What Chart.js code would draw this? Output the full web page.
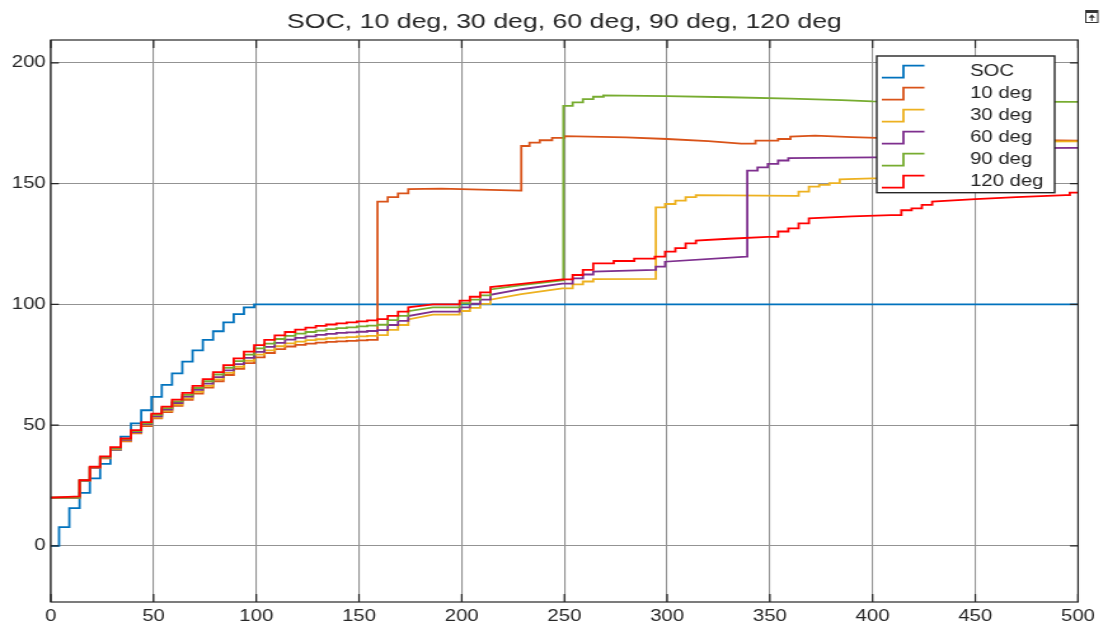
<!DOCTYPE html>
<html>
<head>
<meta charset="utf-8">
<title>SOC stairs</title>
<script src="https://cdn.jsdelivr.net/npm/chart.js@4.4.1/dist/chart.umd.min.js"></script>
<style>
  html, body { margin: 0; padding: 0; background: #fff; overflow: hidden; }
  /* figure is drawn narrow and widened, like the exported figure */
  #wrap { width: 872px; height: 628px; transform: scaleX(1.27064); transform-origin: 0 0; }
  canvas { display: block; }
</style>
</head>
<body>
<div id="wrap"><canvas id="socChart" width="872" height="628"></canvas></div>
<script>
// stair data: [time, value] — value holds until the next time.
// a third entry R marks a slow drift: straight line from the previous point
const R = true;

const socSteps = [[0,0],[4,7.8],[9,15.7],[14,22],[19,28],[24,34],[29,39.8],[34,45.3],[39,50.8],[44,56.2],[49,61.7],[54,66.7],[59,71.5],[64,76.3],[69,81],[74,85.3],[79,88.9],[84,92.6],[89,96],[94,98.8],[99,100],[500,100]];

const deg10Steps = [[0,20],[14,27],[19,32.3],[24,36.3],[29,39.9],[34,43.3],[39,46.6],[44,49.6],[49,52.8],[54,55.4],[59,58],[64,60.5],[69,63.1],[74,65.6],[79,68.2],[84,70.8],[89,73.3],[94,75.7],[99,78.1],[104,79.9],[109,81.5],[114,82.6],[119,83.3],[124,83.8],[129,84.2],[134,84.5],[139,84.7],[144,84.9],[149,85.1],[154,85.3],[159,142.6],[164,144.4],[169,146],[174,147.8],[190,148,R],[228.6,147.1,R],[229,165.6],[233,167],[238,168],[244,169],[250,169.7],[280,169.2,R],[300,168.5,R],[320,167.6,R],[336,166.6,R],[343,167.8],[354,168.5],[360,169.5],[372,169.9,R],[390,169.3,R],[410,168.8,R],[450,168.3,R],[480,168,R],[500,167.8,R]];

const deg30Steps = [[0,20],[14,27.1],[19,32.4],[24,36.5],[29,40.1],[34,43.6],[39,46.9],[44,50],[49,53.2],[54,55.9],[59,58.5],[64,61.1],[69,63.8],[74,66.3],[79,69],[84,71.7],[89,74.2],[94,76.7],[99,79.2],[104,81],[109,82.7],[114,83.9],[119,84.6],[124,85.2],[129,85.6],[134,86],[139,86.3],[144,86.5],[149,86.8],[154,87],[159,87.3],[164,89.5],[169,91.5],[174,93.8],[186,95.8,R],[199,97.3],[204,98.6],[209,100.2],[214,102],[229,104.3,R],[249,106.7,R],[254,108.3],[259,109.5],[264,110.5],[294,110.6,R],[294.5,140.2],[299,141.6],[304,143],[309,144.4],[314,145.3],[363,145,R],[364,146.7],[369,148.8],[374,149.5],[379,150.2],[384,151.8],[400,152.2,R],[429,165.5],[440,167.3],[500,167.5,R]];

const deg60Steps = [[0,20],[14,27.1],[19,32.5],[24,36.7],[29,40.4],[34,43.9],[39,47.2],[44,50.4],[49,53.7],[54,56.5],[59,59.2],[64,61.8],[69,64.6],[74,67.2],[79,69.9],[84,72.7],[89,75.3],[94,77.9],[99,80.4],[104,82.4],[109,84.1],[114,85.4],[119,86.2],[124,86.8],[129,87.4],[134,87.8],[139,88.2],[144,88.4],[149,88.7],[154,89],[159,89.4],[164,91.5],[169,93.2],[174,95.2],[186,97,R],[199,98.8],[204,100.3],[209,102],[214,104],[229,106.3,R],[249,108.6,R],[254,110.8],[259,112.4],[264,113.6],[294,114.3,R],[294.5,115.7],[299,117.7],[338.5,119.8,R],[339,155.4],[344,156.8],[349,158.2],[354,159.6],[359,160.6],[400,160.9,R],[414,162.4],[419,163.3],[424,164],[429,164.6],[500,164.8,R]];

const deg90Steps = [[0,20],[14,27.2],[19,32.7],[24,36.9],[29,40.6],[34,44.2],[39,47.6],[44,50.8],[49,54.3],[54,57.1],[59,59.9],[64,62.6],[69,65.4],[74,68.2],[79,71],[84,73.8],[89,76.5],[94,79.2],[99,81.8],[104,83.8],[109,85.7],[114,87],[119,87.9],[124,88.6],[129,89.2],[134,89.8],[139,90.2],[144,90.5],[149,90.9],[154,91.2],[159,91.6],[164,93.5],[169,95.3],[174,97.2],[186,98.8,R],[199,100.5],[204,102],[209,103.8],[214,106.2],[229,108,R],[249,110,R],[249.5,182.2],[254,183.7],[259,185],[264,186],[269,186.6],[300,186.3,R],[330,185.8,R],[360,185.2,R],[385,184.6,R],[400,184.1,R],[500,183.9,R]];

const deg120Steps = [[0,20],[14,20.5,R],[14,27.3],[19,32.8],[24,37.1],[29,40.9],[34,44.5],[39,48],[44,51.3],[49,54.8],[54,57.7],[59,60.6],[64,63.4],[69,66.3],[74,69.1],[79,72],[84,74.9],[89,77.7],[94,80.5],[99,83.2],[104,85.3],[109,87.2],[114,88.6],[119,89.6],[124,90.4],[129,91.1],[134,91.7],[139,92.2],[144,92.6],[149,93],[154,93.4],[159,93.9],[164,95.3],[169,97],[174,98.8],[186,100,R],[199,101.6],[204,103.2],[209,105],[214,107.2],[229,108.5,R],[249,110.4,R],[254,112.2],[259,114.3],[264,117],[274,118],[284,119],[294,119.8],[299,121.9],[304,123.3],[309,125.3],[314,126.4],[330,127.2,R],[349,128,R],[354,130.2],[359,131.5],[364,133.6],[369,135.7],[390,136.5,R],[409,137,R],[414,139],[419,139.8],[424,141.2],[429,142.6],[450,143.6,R],[470,144.4,R],[494,145.3,R],[496,146.3],[500,146.3]];

const seriesNames = ["SOC", "10 deg", "30 deg", "60 deg", "90 deg", "120 deg"];
const seriesColors = ["#0072BD", "#D95319", "#EDB120", "#7E2F8E", "#77AC30", "#FF0000"];
const xTickValues = [0, 50, 100, 150, 200, 250, 300, 350, 400, 450, 500];
const yTickValues = [0, 50, 100, 150, 200];
const titleText = "SOC, 10 deg, 30 deg, 60 deg, 90 deg, 120 deg";

const allSteps = [socSteps, deg10Steps, deg30Steps, deg60Steps, deg90Steps, deg120Steps];

const FONT = "'Liberation Sans', Arial, Helvetica, sans-serif";
const INK = "#262626";
const LINE_W = 1.8;

// turn stair entries into corner points (flat, then vertical rise)
function toCorners(steps) {
  const pts = [{ x: steps[0][0], y: steps[0][1] }];
  for (let i = 1; i < steps.length; i++) {
    const [x, y, drift] = steps[i];
    if (!drift) pts.push({ x, y: steps[i - 1][1] });
    pts.push({ x, y });
  }
  return pts;
}

// ------------------------------
// box, inward ticks, legend, title
// ------------------------------
function drawLegend(ctx) {
  const left = 690, top = 56, right = 830, bottom = 192.7;
  ctx.fillStyle = "#fff";
  ctx.fillRect(left, top, right - left, bottom - top);
  ctx.strokeStyle = INK;
  ctx.lineWidth = 1.4;
  ctx.strokeRect(left, top, right - left, bottom - top);

  ctx.font = "16px " + FONT;
  ctx.textAlign = "left";
  ctx.textBaseline = "middle";
  seriesNames.forEach((name, i) => {
    const cy = 70.7 + i * 22;
    ctx.strokeStyle = seriesColors[i];
    ctx.lineWidth = LINE_W;
    ctx.beginPath();
    ctx.moveTo(694, cy + 7);
    ctx.lineTo(711, cy + 7);
    ctx.lineTo(711, cy - 5);
    ctx.lineTo(727.5, cy - 5);
    ctx.stroke();
    ctx.fillStyle = INK;
    ctx.fillText(name, 763.4, cy + 1);
  });
}

function drawExportIcon(ctx) {
  ctx.strokeStyle = "#333";
  ctx.fillStyle = "#333";
  ctx.lineWidth = 1;
  ctx.strokeRect(854.5, 10.5, 9.5, 12);
  ctx.fillRect(854.5, 10.5, 9.5, 2.5);
  ctx.beginPath();
  ctx.moveTo(859.25, 21);
  ctx.lineTo(859.25, 16);
  ctx.stroke();
  ctx.beginPath();
  ctx.moveTo(856.6, 17.8);
  ctx.lineTo(859.25, 14.2);
  ctx.lineTo(861.9, 17.8);
  ctx.closePath();
  ctx.fill();
}

const framePlugin = {
  id: "frame",
  afterDatasetsDraw(chart) {
    const { ctx, chartArea: a, scales: { x, y } } = chart;
    ctx.save();
    ctx.strokeStyle = INK;
    ctx.lineWidth = 1.2;
    ctx.strokeRect(a.left, a.top, a.right - a.left, a.bottom - a.top);

    ctx.beginPath();
    xTickValues.forEach(v => {
      const px = x.getPixelForValue(v);
      ctx.moveTo(px, a.bottom); ctx.lineTo(px, a.bottom - 8);
      ctx.moveTo(px, a.top); ctx.lineTo(px, a.top + 8);
    });
    yTickValues.forEach(v => {
      const py = y.getPixelForValue(v);
      ctx.moveTo(a.left, py); ctx.lineTo(a.left + 6.3, py);
      ctx.moveTo(a.right, py); ctx.lineTo(a.right - 6.3, py);
    });
    ctx.stroke();

    drawLegend(ctx);

    ctx.fillStyle = INK;
    ctx.font = "21px " + FONT;
    ctx.textAlign = "center";
    ctx.textBaseline = "middle";
    ctx.fillText(titleText, (a.left + a.right) / 2, 22);

    drawExportIcon(ctx);
    ctx.restore();
  }
};

const tickFont = { family: FONT, size: 16 };
const gridStyle = { color: "#939393", lineWidth: 1.1, drawTicks: false };

new Chart(document.getElementById("socChart").getContext("2d"), {
  type: "line",
  data: {
    datasets: allSteps.map((steps, i) => ({
      label: seriesNames[i],
      data: toCorners(steps),
      borderColor: seriesColors[i],
      backgroundColor: seriesColors[i],
      borderWidth: LINE_W,
      tension: 0,
      pointRadius: 0,
      fill: false,
      order: allSteps.length - i
    }))
  },
  options: {
    responsive: false,
    animation: false,
    layout: { padding: { left: 0, right: 23.6, top: 40, bottom: 0 } },
    plugins: {
      legend: { display: false },
      title: { display: false },
      tooltip: { enabled: false }
    },
    scales: {
      x: {
        type: "linear",
        min: 0,
        max: 500,
        afterBuildTicks: s => { s.ticks = xTickValues.map(v => ({ value: v })); },
        afterFit: s => { s.height = 26; },
        ticks: { font: tickFont, color: INK, padding: 5, maxRotation: 0, autoSkip: false },
        grid: gridStyle,
        border: { display: false }
      },
      y: {
        min: -23.2,
        max: 209.5,
        afterBuildTicks: s => { s.ticks = yTickValues.map(v => ({ value: v })); },
        afterFit: s => { s.width = 40; },
        ticks: { font: tickFont, color: INK, padding: 4 },
        grid: gridStyle,
        border: { display: false }
      }
    }
  },
  plugins: [framePlugin]
});
</script>
</body>
</html>
